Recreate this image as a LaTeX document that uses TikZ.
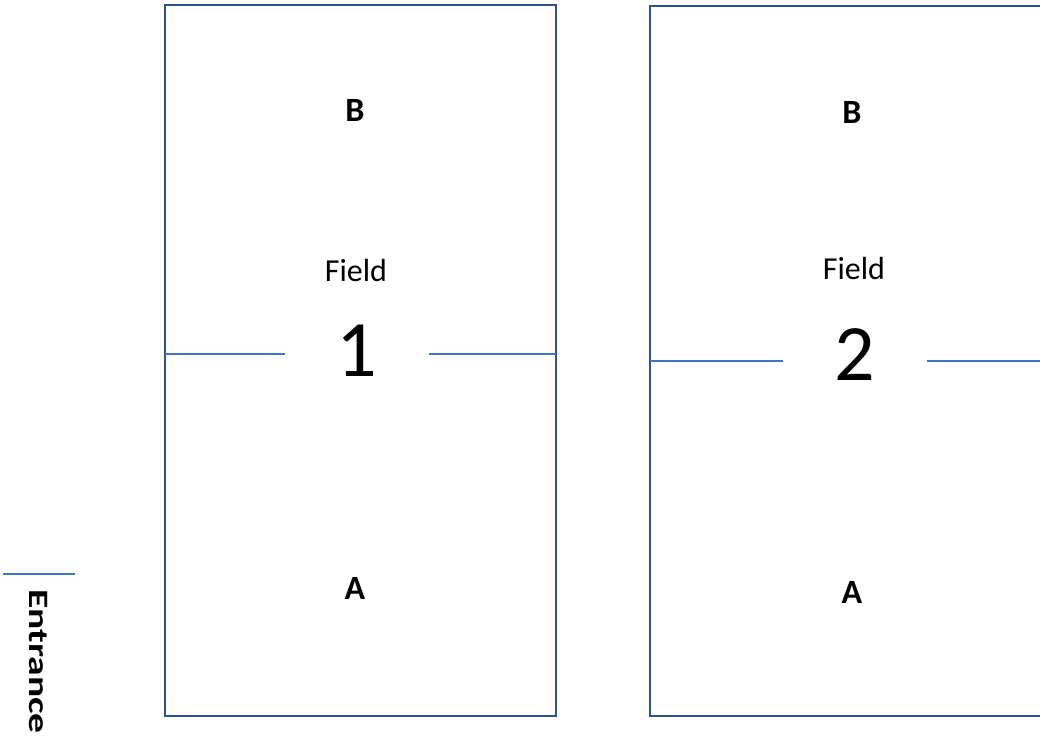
\documentclass[tikz,border=0pt]{standalone}
\usepackage{fontspec}
\setmainfont{Carlito}
\usetikzlibrary{positioning}
\definecolor{fieldEdge}{HTML}{2F528F}
\definecolor{splitLine}{HTML}{4472C4}

\begin{document}
\begin{tikzpicture}[
    x=0.5pt, y=-0.5pt,
    fieldBox/.style={draw=fieldEdge, line width=1pt},
    halfLine/.style={draw=splitLine, line width=0.6pt},
    goalLabel/.style={font=\fontsize{17}{20}\selectfont\bfseries, inner sep=0pt},
    fieldLabel/.style={font=\fontsize{16}{19}\selectfont, inner sep=0pt},
    numLabel/.style={font=\fontsize{40}{48}\selectfont, inner sep=0pt, minimum width=71.5pt},
    gateLabel/.style={font=\fontsize{16.5}{19}\selectfont\bfseries, inner sep=0pt, rotate=-90, anchor=base west}
  ]
  \useasboundingbox (0,0) rectangle (1040,750);
  \clip (0,0) rectangle (1040,750);

  % First Field
  \draw[fieldBox] (165,5) rectangle (556,716);
  \node[goalLabel] (goalB1) at (355,110) {B};
  \node[fieldLabel] (name1) at (356,270) {Field};
  \node[numLabel] (num1) at (357,351) {1};
  \node[goalLabel] (goalA1) at (355,588) {A};
  \coordinate (f1west) at (165,354);
  \coordinate (f1east) at (556,354);

  % Half line
  \draw[halfLine] (f1west) -- (f1west -| num1.west);
  \draw[halfLine] (f1east -| num1.east) -- (f1east);

  % Second Field
  \draw[fieldBox] (650,6) rectangle (1046,716);
  \node[goalLabel] (goalB2) at (852,112) {B};
  \node[fieldLabel] (name2) at (854,268) {Field};
  \node[numLabel] (num2) at (855,355) {2};
  \node[goalLabel] (goalA2) at (852,592) {A};
  \coordinate (f2west) at (650,361);
  \coordinate (f2east) at (1046,361);

  % Half line
  \draw[halfLine] (f2west) -- (f2west -| num2.west);
  \draw[halfLine] (f2east -| num2.east) -- (f2east);

  % Entrance
  \coordinate (gateL) at (3,574);
  \coordinate (gateR) at (75,574);
  \draw[halfLine] (gateL) -- (gateR);
  \node[gateLabel] (gate) at (30,589) {\scalebox{1.2}[0.85]{Entrance}};

\end{tikzpicture}
\end{document}
